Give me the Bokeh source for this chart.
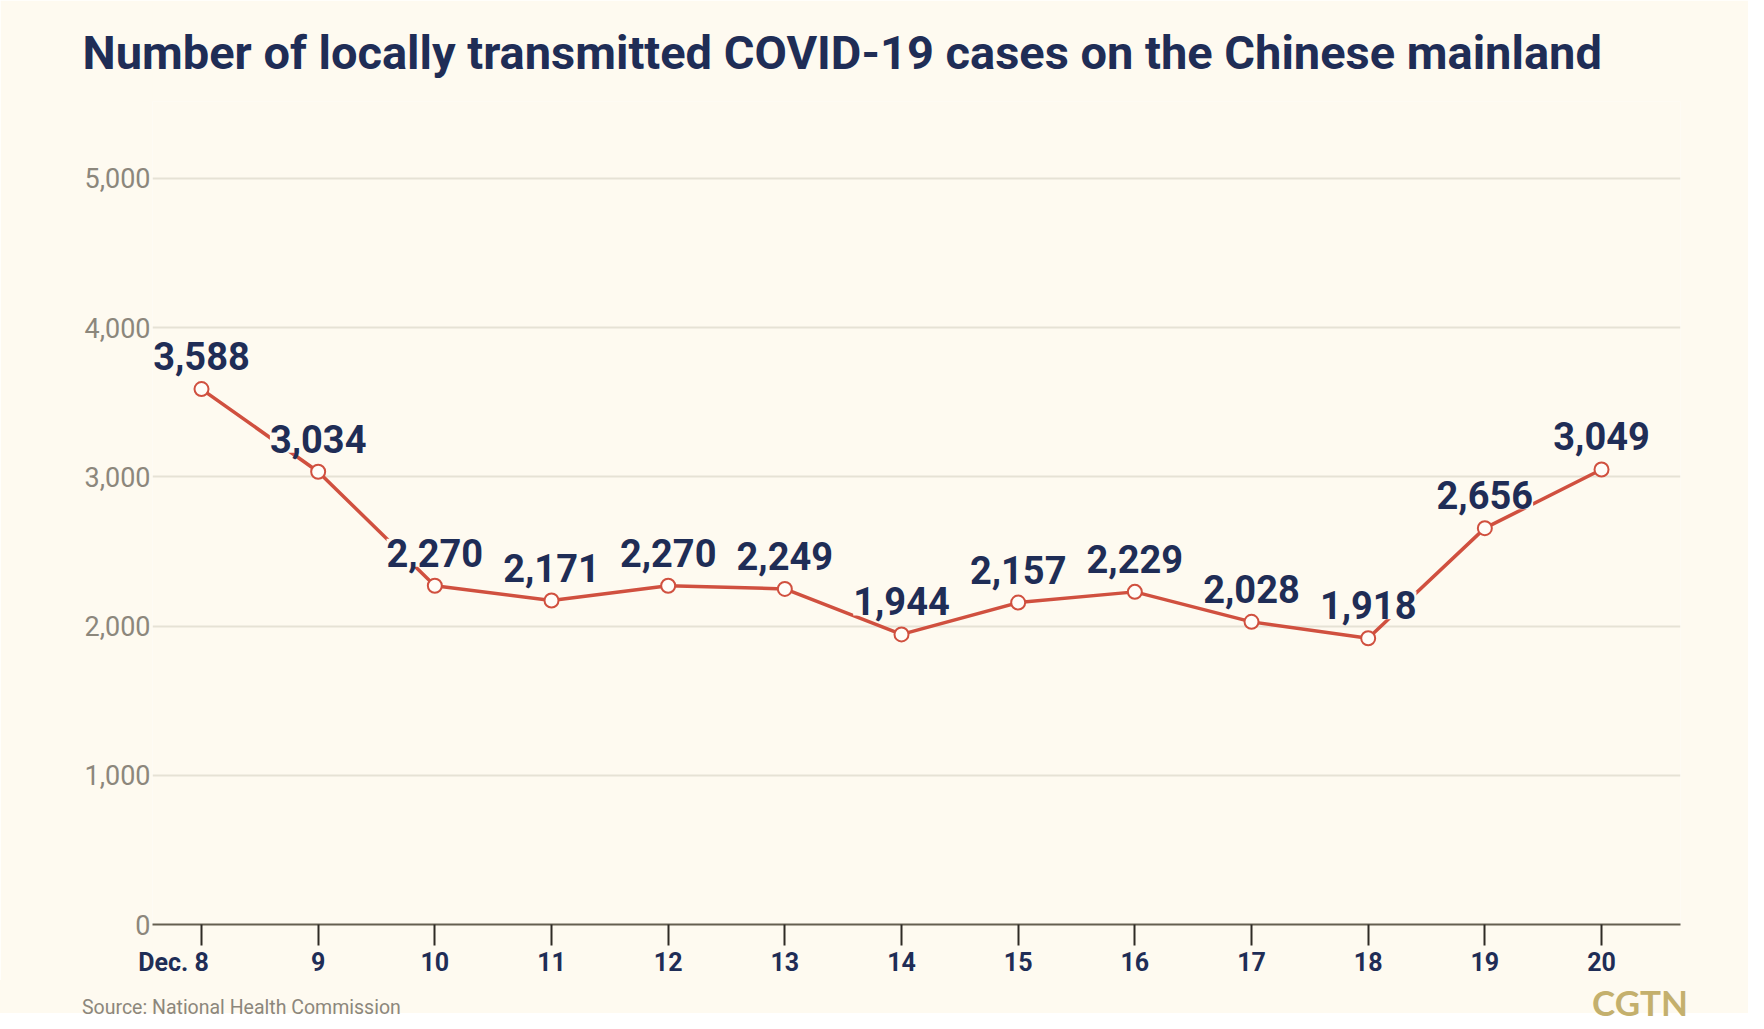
from bokeh.plotting import figure
from bokeh.models import ColumnDataSource, LabelSet, FixedTicker, Range1d, Div
from bokeh.layouts import column
from bokeh.core.properties import value
from bokeh.embed import file_html
from bokeh.resources import INLINE

days = [8, 9, 10, 11, 12, 13, 14, 15, 16, 17, 18, 19, 20]
cases = [3588, 3034, 2270, 2171, 2270, 2249, 1944, 2157, 2229, 2028, 1918, 2656, 3049]
case_labels = ["3,588", "3,034", "2,270", "2,171", "2,270", "2,249", "1,944",
               "2,157", "2,229", "2,028", "1,918", "2,656", "3,049"]
x_tick_labels = {8: "Dec.\u00a08" + "\u00a0" * 9}
y_ticks = [0, 1000, 2000, 3000, 4000, 5000]
y_tick_labels = {0: "0", 1000: "1,000", 2000: "2,000", 3000: "3,000", 4000: "4,000", 5000: "5,000"}
title_text = "Number of locally transmitted COVID-19 cases on the Chinese mainland"
source_text = "Source: National Health Commission"
logo_text = "CGTN"

BG = "#FEFAF0"
NAVY = "#1F2D56"
RED = "#D0503F"
GRAY = "#8C877C"
GOLD = "#C4B06D"

W = 1748
MAIN_H = 980
FOOT_H = 33

p = figure(width=W, height=MAIN_H, output_backend="svg", toolbar_location=None,
           x_range=Range1d(7.58, 20.677), y_range=Range1d(0, 5515),
           min_border_left=152, min_border_right=68, min_border_top=101, min_border_bottom=56,
           background_fill_color=BG, border_fill_color=BG, outline_line_color=None)

p.title.text = title_text
p.title.text_font = "Roboto"
p.title.text_font_style = "bold"
p.title.text_font_size = "47px"
p.title.text_color = NAVY
p.title.offset = -70
p.title.standoff = 44

# axes
p.xaxis.ticker = FixedTicker(ticks=days)
p.xaxis.major_label_overrides = x_tick_labels
p.xaxis.axis_line_color = "#655F50"
p.xaxis.axis_line_width = 2
p.xaxis.major_tick_line_color = "#2E2B25"
p.xaxis.major_tick_line_width = 2
p.xaxis.major_tick_in = 0
p.xaxis.major_tick_out = 21
p.xaxis.minor_tick_line_color = None
p.xaxis.major_label_text_font = "Roboto"
p.xaxis.major_label_text_font_style = "bold"
p.xaxis.major_label_text_font_size = "25px"
p.xaxis.major_label_text_color = NAVY
p.xaxis.major_label_standoff = 2

p.yaxis.ticker = FixedTicker(ticks=y_ticks)
p.yaxis.major_label_overrides = y_tick_labels
p.yaxis.axis_line_color = None
p.yaxis.major_tick_line_color = None
p.yaxis.minor_tick_line_color = None
p.yaxis.major_label_text_font = "Roboto"
p.yaxis.major_label_text_font_size = "27px"
p.yaxis.major_label_text_color = GRAY
p.yaxis.major_label_standoff = -4

p.xgrid.grid_line_color = None
p.ygrid.grid_line_color = "#E6E2D5"
p.ygrid.grid_line_width = 2

src = ColumnDataSource(dict(x=days, y=cases, label=case_labels))
p.line("x", "y", source=src, line_color=RED, line_width=3.5)
p.scatter("x", "y", source=src, size=14, fill_color="#FFFDF8", line_color=RED, line_width=2)

labels = LabelSet(x="x", y="y", text="label", source=src, y_offset=33,
                  text_align="center", text_baseline="middle",
                  text_font=value("Roboto"), text_font_style="bold", text_font_size="38px",
                  text_color=NAVY, background_fill_color=BG)
p.add_layout(labels)

# footer
footer_html = (
    f'<div style="position:relative;width:{W}px;height:{FOOT_H}px;background:{BG};overflow:visible;">'
    f'<span style="position:absolute;left:82px;top:17px;font-family:Roboto;font-size:19.5px;'
    f'line-height:22px;color:{GRAY};white-space:nowrap;">{source_text}</span>'
    f'<span style="position:absolute;right:{W - 1688}px;top:4px;font-family:Lato;font-weight:bold;'
    f'font-size:35px;line-height:36px;color:{GOLD};white-space:nowrap;">{logo_text}</span>'
    f'</div>'
)
footer = Div(text=footer_html, width=W, height=FOOT_H, margin=0,
             styles={"background-color": BG, "overflow": "visible"})

layout = column(p, footer, spacing=0)
open("out.html", "w").write(file_html(layout, INLINE))
